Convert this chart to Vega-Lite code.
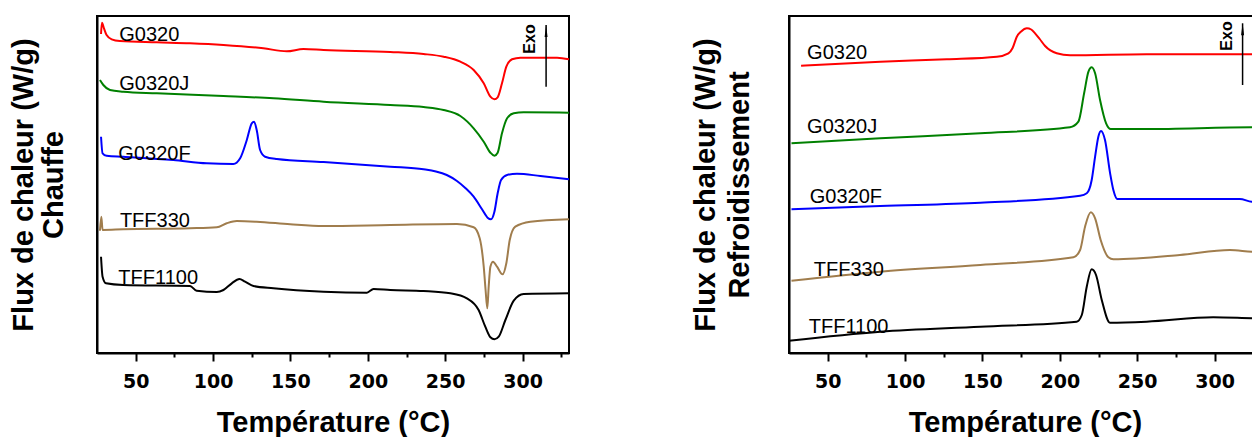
{
  "$schema": "https://vega.github.io/schema/vega-lite/v6.json",
  "background": "white",
  "padding": {"left": 8, "top": 15, "right": 0, "bottom": 0},
  "spacing": 116,
  "datasets": {
    "curves": [
      {"mode": "h", "s": "G0320", "T": 27.6, "v": 319}, {"mode": "h", "s": "G0320", "T": 28.2, "v": 330.3}, {"mode": "h", "s": "G0320", "T": 29.5, "v": 324.7}, {"mode": "h", "s": "G0320", "T": 31.2, "v": 318}, {"mode": "h", "s": "G0320", "T": 34.5, "v": 313.7}, {"mode": "h", "s": "G0320", "T": 39.8, "v": 312}, {"mode": "h", "s": "G0320", "T": 63.6, "v": 310.7}, {"mode": "h", "s": "G0320", "T": 85.1, "v": 309.7}, {"mode": "h", "s": "G0320", "T": 106.7, "v": 308}, {"mode": "h", "s": "G0320", "T": 132.5, "v": 304.7}, {"mode": "h", "s": "G0320", "T": 147.6, "v": 301.7}, {"mode": "h", "s": "G0320", "T": 158.4, "v": 304}, {"mode": "h", "s": "G0320", "T": 171.4, "v": 303}, {"mode": "h", "s": "G0320", "T": 214.5, "v": 301}, {"mode": "h", "s": "G0320", "T": 236, "v": 299}, {"mode": "h", "s": "G0320", "T": 249, "v": 296.3}, {"mode": "h", "s": "G0320", "T": 259.8, "v": 291.3}, {"mode": "h", "s": "G0320", "T": 268.4, "v": 283}, {"mode": "h", "s": "G0320", "T": 274.9, "v": 269.7}, {"mode": "h", "s": "G0320", "T": 279.2, "v": 256.3}, {"mode": "h", "s": "G0320", "T": 281.8, "v": 253.7}, {"mode": "h", "s": "G0320", "T": 283.9, "v": 255.7}, {"mode": "h", "s": "G0320", "T": 286.7, "v": 269.7}, {"mode": "h", "s": "G0320", "T": 289.5, "v": 286.3}, {"mode": "h", "s": "G0320", "T": 293.2, "v": 293.7}, {"mode": "h", "s": "G0320", "T": 298.6, "v": 295.3}, {"mode": "h", "s": "G0320", "T": 322.3, "v": 295.3}, {"mode": "h", "s": "G0320", "T": 330, "v": 293.7},
      {"mode": "h", "s": "G0320J", "T": 26.9, "v": 273}, {"mode": "h", "s": "G0320J", "T": 29.1, "v": 268}, {"mode": "h", "s": "G0320J", "T": 33.4, "v": 263}, {"mode": "h", "s": "G0320J", "T": 42, "v": 261.3}, {"mode": "h", "s": "G0320J", "T": 63.6, "v": 259.7}, {"mode": "h", "s": "G0320J", "T": 106.7, "v": 257}, {"mode": "h", "s": "G0320J", "T": 139, "v": 254.7}, {"mode": "h", "s": "G0320J", "T": 171.4, "v": 251.3}, {"mode": "h", "s": "G0320J", "T": 214.5, "v": 248}, {"mode": "h", "s": "G0320J", "T": 236, "v": 246}, {"mode": "h", "s": "G0320J", "T": 249, "v": 243}, {"mode": "h", "s": "G0320J", "T": 259.8, "v": 237}, {"mode": "h", "s": "G0320J", "T": 268.4, "v": 224.7}, {"mode": "h", "s": "G0320J", "T": 274.9, "v": 211.3}, {"mode": "h", "s": "G0320J", "T": 279.2, "v": 200.3}, {"mode": "h", "s": "G0320J", "T": 281.8, "v": 197.3}, {"mode": "h", "s": "G0320J", "T": 283.9, "v": 200.3}, {"mode": "h", "s": "G0320J", "T": 286.7, "v": 219.7}, {"mode": "h", "s": "G0320J", "T": 290, "v": 234.7}, {"mode": "h", "s": "G0320J", "T": 294.3, "v": 239.7}, {"mode": "h", "s": "G0320J", "T": 300.7, "v": 240.7}, {"mode": "h", "s": "G0320J", "T": 330, "v": 240.3},
      {"mode": "h", "s": "G0320F", "T": 27.6, "v": 216.3}, {"mode": "h", "s": "G0320F", "T": 28.6, "v": 199.7}, {"mode": "h", "s": "G0320F", "T": 31.2, "v": 197.3}, {"mode": "h", "s": "G0320F", "T": 42, "v": 196.3}, {"mode": "h", "s": "G0320F", "T": 74.3, "v": 193}, {"mode": "h", "s": "G0320F", "T": 95.9, "v": 189.7}, {"mode": "h", "s": "G0320F", "T": 113.1, "v": 189}, {"mode": "h", "s": "G0320F", "T": 117.5, "v": 194.7}, {"mode": "h", "s": "G0320F", "T": 121.8, "v": 213}, {"mode": "h", "s": "G0320F", "T": 125, "v": 229.7}, {"mode": "h", "s": "G0320F", "T": 126.5, "v": 231.3}, {"mode": "h", "s": "G0320F", "T": 128.2, "v": 223}, {"mode": "h", "s": "G0320F", "T": 130.4, "v": 203}, {"mode": "h", "s": "G0320F", "T": 133.6, "v": 196.3}, {"mode": "h", "s": "G0320F", "T": 141.2, "v": 194}, {"mode": "h", "s": "G0320F", "T": 171.4, "v": 191}, {"mode": "h", "s": "G0320F", "T": 214.5, "v": 186.3}, {"mode": "h", "s": "G0320F", "T": 236, "v": 183.7}, {"mode": "h", "s": "G0320F", "T": 244, "v": 181.5}, {"mode": "h", "s": "G0320F", "T": 251, "v": 178}, {"mode": "h", "s": "G0320F", "T": 257.6, "v": 172}, {"mode": "h", "s": "G0320F", "T": 263, "v": 165}, {"mode": "h", "s": "G0320F", "T": 268.4, "v": 156.3}, {"mode": "h", "s": "G0320F", "T": 273.8, "v": 143.7}, {"mode": "h", "s": "G0320F", "T": 277.4, "v": 135.3}, {"mode": "h", "s": "G0320F", "T": 279.6, "v": 133.7}, {"mode": "h", "s": "G0320F", "T": 281.8, "v": 141.3}, {"mode": "h", "s": "G0320F", "T": 283.9, "v": 159.7}, {"mode": "h", "s": "G0320F", "T": 286.1, "v": 173}, {"mode": "h", "s": "G0320F", "T": 290, "v": 178}, {"mode": "h", "s": "G0320F", "T": 296.4, "v": 179.3}, {"mode": "h", "s": "G0320F", "T": 311.5, "v": 177}, {"mode": "h", "s": "G0320F", "T": 330, "v": 173.7},
      {"mode": "h", "s": "TFF330", "T": 26.9, "v": 122.3}, {"mode": "h", "s": "TFF330", "T": 27.8, "v": 136.3}, {"mode": "h", "s": "TFF330", "T": 28.6, "v": 123}, {"mode": "h", "s": "TFF330", "T": 42, "v": 123.7}, {"mode": "h", "s": "TFF330", "T": 85.1, "v": 124.7}, {"mode": "h", "s": "TFF330", "T": 102.4, "v": 125.7}, {"mode": "h", "s": "TFF330", "T": 108.8, "v": 129.7}, {"mode": "h", "s": "TFF330", "T": 115.3, "v": 132}, {"mode": "h", "s": "TFF330", "T": 128.2, "v": 131.3}, {"mode": "h", "s": "TFF330", "T": 149.8, "v": 128.7}, {"mode": "h", "s": "TFF330", "T": 171.4, "v": 127}, {"mode": "h", "s": "TFF330", "T": 214.5, "v": 128}, {"mode": "h", "s": "TFF330", "T": 257.6, "v": 129}, {"mode": "h", "s": "TFF330", "T": 268.4, "v": 125.7}, {"mode": "h", "s": "TFF330", "T": 272.3, "v": 114.7}, {"mode": "h", "s": "TFF330", "T": 274.9, "v": 86.3}, {"mode": "h", "s": "TFF330", "T": 276.1, "v": 63}, {"mode": "h", "s": "TFF330", "T": 277.2, "v": 44.7}, {"mode": "h", "s": "TFF330", "T": 278.1, "v": 66.3}, {"mode": "h", "s": "TFF330", "T": 279.2, "v": 86.3}, {"mode": "h", "s": "TFF330", "T": 280.9, "v": 91.3}, {"mode": "h", "s": "TFF330", "T": 283.5, "v": 86.3}, {"mode": "h", "s": "TFF330", "T": 287.1, "v": 78.7}, {"mode": "h", "s": "TFF330", "T": 289.5, "v": 89.7}, {"mode": "h", "s": "TFF330", "T": 291.7, "v": 113}, {"mode": "h", "s": "TFF330", "T": 295.3, "v": 126.3}, {"mode": "h", "s": "TFF330", "T": 305, "v": 131.3}, {"mode": "h", "s": "TFF330", "T": 330, "v": 133.7},
      {"mode": "h", "s": "TFF1100", "T": 27.6, "v": 96.3}, {"mode": "h", "s": "TFF1100", "T": 28.6, "v": 76.3}, {"mode": "h", "s": "TFF1100", "T": 30.8, "v": 69.7}, {"mode": "h", "s": "TFF1100", "T": 42, "v": 68}, {"mode": "h", "s": "TFF1100", "T": 85.1, "v": 67}, {"mode": "h", "s": "TFF1100", "T": 89.4, "v": 62.3}, {"mode": "h", "s": "TFF1100", "T": 102.4, "v": 61}, {"mode": "h", "s": "TFF1100", "T": 106.7, "v": 63}, {"mode": "h", "s": "TFF1100", "T": 112.1, "v": 69.7}, {"mode": "h", "s": "TFF1100", "T": 117, "v": 74}, {"mode": "h", "s": "TFF1100", "T": 120.7, "v": 71.3}, {"mode": "h", "s": "TFF1100", "T": 126.1, "v": 67}, {"mode": "h", "s": "TFF1100", "T": 139, "v": 64.7}, {"mode": "h", "s": "TFF1100", "T": 171.4, "v": 61.3}, {"mode": "h", "s": "TFF1100", "T": 199.4, "v": 60.3}, {"mode": "h", "s": "TFF1100", "T": 203.7, "v": 64}, {"mode": "h", "s": "TFF1100", "T": 214.5, "v": 63}, {"mode": "h", "s": "TFF1100", "T": 236, "v": 62}, {"mode": "h", "s": "TFF1100", "T": 253.3, "v": 59.7}, {"mode": "h", "s": "TFF1100", "T": 264, "v": 54.7}, {"mode": "h", "s": "TFF1100", "T": 271.6, "v": 43}, {"mode": "h", "s": "TFF1100", "T": 275.9, "v": 26.3}, {"mode": "h", "s": "TFF1100", "T": 279.2, "v": 15.7}, {"mode": "h", "s": "TFF1100", "T": 281.8, "v": 13.7}, {"mode": "h", "s": "TFF1100", "T": 284.6, "v": 16.3}, {"mode": "h", "s": "TFF1100", "T": 288.9, "v": 33}, {"mode": "h", "s": "TFF1100", "T": 294.3, "v": 52.3}, {"mode": "h", "s": "TFF1100", "T": 300.7, "v": 59}, {"mode": "h", "s": "TFF1100", "T": 330, "v": 59.7},
      {"mode": "c", "s": "G0320", "T": 32.8, "v": 287.3}, {"mode": "c", "s": "G0320", "T": 84, "v": 291.3}, {"mode": "c", "s": "G0320", "T": 127, "v": 293.7}, {"mode": "c", "s": "G0320", "T": 159.3, "v": 296.3}, {"mode": "c", "s": "G0320", "T": 166.8, "v": 299.7}, {"mode": "c", "s": "G0320", "T": 169.5, "v": 305}, {"mode": "c", "s": "G0320", "T": 172.2, "v": 316.3}, {"mode": "c", "s": "G0320", "T": 175, "v": 321.5}, {"mode": "c", "s": "G0320", "T": 178.7, "v": 324.7}, {"mode": "c", "s": "G0320", "T": 181.5, "v": 323.5}, {"mode": "c", "s": "G0320", "T": 184, "v": 319.7}, {"mode": "c", "s": "G0320", "T": 187, "v": 314}, {"mode": "c", "s": "G0320", "T": 190.5, "v": 307}, {"mode": "c", "s": "G0320", "T": 198, "v": 299.7}, {"mode": "c", "s": "G0320", "T": 206.6, "v": 297.7}, {"mode": "c", "s": "G0320", "T": 256.1, "v": 298.7}, {"mode": "c", "s": "G0320", "T": 324, "v": 298.7}, {"mode": "c", "s": "G0320", "T": 330, "v": 298.5},
      {"mode": "c", "s": "G0320J", "T": 26.6, "v": 209.7}, {"mode": "c", "s": "G0320J", "T": 84, "v": 214.7}, {"mode": "c", "s": "G0320J", "T": 148.6, "v": 219.7}, {"mode": "c", "s": "G0320J", "T": 206.6, "v": 225.7}, {"mode": "c", "s": "G0320J", "T": 212, "v": 231.3}, {"mode": "c", "s": "G0320J", "T": 215.7, "v": 259.7}, {"mode": "c", "s": "G0320J", "T": 218.5, "v": 281.3}, {"mode": "c", "s": "G0320J", "T": 220.6, "v": 285.7}, {"mode": "c", "s": "G0320J", "T": 222.8, "v": 279.7}, {"mode": "c", "s": "G0320J", "T": 226, "v": 253}, {"mode": "c", "s": "G0320J", "T": 229.9, "v": 229.7}, {"mode": "c", "s": "G0320J", "T": 232.9, "v": 224}, {"mode": "c", "s": "G0320J", "T": 256.1, "v": 224}, {"mode": "c", "s": "G0320J", "T": 324, "v": 225.7}, {"mode": "c", "s": "G0320J", "T": 330, "v": 225.7},
      {"mode": "c", "s": "G0320F", "T": 26.6, "v": 143.7}, {"mode": "c", "s": "G0320F", "T": 84, "v": 147}, {"mode": "c", "s": "G0320F", "T": 148.6, "v": 150.3}, {"mode": "c", "s": "G0320F", "T": 213.1, "v": 157.3}, {"mode": "c", "s": "G0320F", "T": 217.4, "v": 159.7}, {"mode": "c", "s": "G0320F", "T": 220.6, "v": 173}, {"mode": "c", "s": "G0320F", "T": 222.8, "v": 196.3}, {"mode": "c", "s": "G0320F", "T": 224.9, "v": 216.3}, {"mode": "c", "s": "G0320F", "T": 226.6, "v": 222}, {"mode": "c", "s": "G0320F", "T": 229.2, "v": 213}, {"mode": "c", "s": "G0320F", "T": 232.5, "v": 179.7}, {"mode": "c", "s": "G0320F", "T": 234.6, "v": 163}, {"mode": "c", "s": "G0320F", "T": 237.2, "v": 154}, {"mode": "c", "s": "G0320F", "T": 256.1, "v": 154}, {"mode": "c", "s": "G0320F", "T": 316.3, "v": 154}, {"mode": "c", "s": "G0320F", "T": 324, "v": 151.3}, {"mode": "c", "s": "G0320F", "T": 330, "v": 151},
      {"mode": "c", "s": "TFF330", "T": 26.6, "v": 72.3}, {"mode": "c", "s": "TFF330", "T": 84, "v": 81.3}, {"mode": "c", "s": "TFF330", "T": 148.6, "v": 88}, {"mode": "c", "s": "TFF330", "T": 208.8, "v": 95.7}, {"mode": "c", "s": "TFF330", "T": 213.1, "v": 103}, {"mode": "c", "s": "TFF330", "T": 216.3, "v": 126.3}, {"mode": "c", "s": "TFF330", "T": 220, "v": 140.7}, {"mode": "c", "s": "TFF330", "T": 222.8, "v": 134.7}, {"mode": "c", "s": "TFF330", "T": 226.4, "v": 113}, {"mode": "c", "s": "TFF330", "T": 231.4, "v": 95.7}, {"mode": "c", "s": "TFF330", "T": 234.6, "v": 93.7}, {"mode": "c", "s": "TFF330", "T": 277.6, "v": 98}, {"mode": "c", "s": "TFF330", "T": 309.9, "v": 103}, {"mode": "c", "s": "TFF330", "T": 324, "v": 101.3}, {"mode": "c", "s": "TFF330", "T": 330, "v": 101},
      {"mode": "c", "s": "TFF1100", "T": 25, "v": 12.3}, {"mode": "c", "s": "TFF1100", "T": 84, "v": 21.3}, {"mode": "c", "s": "TFF1100", "T": 148.6, "v": 26.3}, {"mode": "c", "s": "TFF1100", "T": 210.9, "v": 31.3}, {"mode": "c", "s": "TFF1100", "T": 214.2, "v": 38}, {"mode": "c", "s": "TFF1100", "T": 217.4, "v": 66.3}, {"mode": "c", "s": "TFF1100", "T": 220.6, "v": 83.7}, {"mode": "c", "s": "TFF1100", "T": 223.4, "v": 78}, {"mode": "c", "s": "TFF1100", "T": 227.1, "v": 53}, {"mode": "c", "s": "TFF1100", "T": 232.4, "v": 30.3}, {"mode": "c", "s": "TFF1100", "T": 256.1, "v": 31.3}, {"mode": "c", "s": "TFF1100", "T": 299.1, "v": 35.7}, {"mode": "c", "s": "TFF1100", "T": 324, "v": 34.7}, {"mode": "c", "s": "TFF1100", "T": 330, "v": 34.5}
    ],
    "labels": [
      {"mode": "h", "s": "G0320", "T": 39.4, "v": 318.5}, {"mode": "h", "s": "G0320J", "T": 39.4, "v": 269}, {"mode": "h", "s": "G0320F", "T": 38.8, "v": 199.5}, {"mode": "h", "s": "TFF330", "T": 39.8, "v": 132.5}, {"mode": "h", "s": "TFF1100", "T": 38.8, "v": 75.5},
      {"mode": "c", "s": "G0320", "T": 36.7, "v": 299.7}, {"mode": "c", "s": "G0320J", "T": 36.7, "v": 226.3}, {"mode": "c", "s": "G0320F", "T": 38.4, "v": 156}, {"mode": "c", "s": "TFF330", "T": 41, "v": 83}, {"mode": "c", "s": "TFF1100", "T": 37.8, "v": 26}
    ],
    "arrows": [
      {"mode": "h", "T": 315.2, "v": 266.3, "v2": 328, "Tt": 304.6, "vt": 314, "txt": "Exo"},
      {"mode": "c", "T": 318.1, "v": 268, "v2": 329.7, "Tt": 308.2, "vt": 317, "txt": "Exo"}
    ]
  },
  "hconcat": [
    {
      "width": 472, "height": 337,
      "layer": [
        {
          "data": {"name": "curves"},
          "transform": [{"filter": "datum.mode === 'h'"}],
          "mark": {"type": "line", "strokeWidth": 2, "interpolate": "monotone"},
          "encoding": {
            "x": {"field": "T", "type": "quantitative", "title": "Température (°C)", "scale": {"domain": [25, 330], "nice": false, "zero": false},
              "axis": {"values": [50, 75, 100, 125, 150, 175, 200, 225, 250, 275, 300, 325], "labelExpr": "datum.value % 50 === 0 ? datum.label : ''", "tickSize": {"condition": {"test": "datum.value % 50 === 0", "value": 8}, "value": 4}, "labelPadding": 11, "labelOverlap": false, "labelFlush": false, "titlePadding": 17}},
            "y": {"field": "v", "type": "quantitative", "title": ["Flux de chaleur (W/g)", "Chauffe"], "scale": {"domain": [0, 337], "nice": false, "zero": false},
              "axis": {"labels": false, "ticks": false, "titlePadding": 29, "titleLineHeight": 30}},
            "color": {"field": "s", "type": "nominal", "legend": null, "scale": {"domain": ["G0320", "G0320J", "G0320F", "TFF330", "TFF1100"], "range": ["#ff0000", "#008000", "#0000ff", "#a07d4d", "#000000"]}},
            "detail": {"field": "s"}
          }
        },
        {
          "data": {"name": "labels"},
          "transform": [{"filter": "datum.mode === 'h'"}],
          "mark": {"type": "text", "align": "left", "baseline": "middle", "font": "Liberation Sans", "fontSize": 20, "color": "black"},
          "encoding": {
            "x": {"field": "T", "type": "quantitative", "title": "Température (°C)"},
            "y": {"field": "v", "type": "quantitative", "title": ["Flux de chaleur (W/g)", "Chauffe"]},
            "text": {"field": "s"}
          }
        },
        {
          "data": {"name": "arrows"},
          "transform": [{"filter": "datum.mode === 'h'"}],
          "mark": {"type": "rule", "color": "black", "strokeWidth": 1.5},
          "encoding": {
            "x": {"field": "T", "type": "quantitative", "title": "Température (°C)"},
            "y": {"field": "v", "type": "quantitative", "title": ["Flux de chaleur (W/g)", "Chauffe"]},
            "y2": {"field": "v2", "title": null}
          }
        },
        {
          "data": {"name": "arrows"},
          "transform": [{"filter": "datum.mode === 'h'"}],
          "mark": {"type": "point", "shape": "M0,-1L0.25,1L-0.25,1Z", "filled": true, "color": "black", "size": 144, "opacity": 1, "yOffset": 6},
          "encoding": {
            "x": {"field": "T", "type": "quantitative", "title": "Température (°C)"},
            "y": {"field": "v2", "type": "quantitative", "title": ["Flux de chaleur (W/g)", "Chauffe"]}
          }
        },
        {
          "data": {"name": "arrows"},
          "transform": [{"filter": "datum.mode === 'h'"}],
          "mark": {"type": "text", "angle": 270, "align": "center", "baseline": "middle", "font": "Liberation Sans", "fontWeight": "bold", "fontSize": 16, "color": "black"},
          "encoding": {
            "x": {"field": "Tt", "type": "quantitative", "title": "Température (°C)"},
            "y": {"field": "vt", "type": "quantitative", "title": ["Flux de chaleur (W/g)", "Chauffe"]},
            "text": {"field": "txt"}
          }
        }
      ]
    },
    {
      "width": 472, "height": 337,
      "layer": [
        {
          "data": {"name": "curves"},
          "transform": [{"filter": "datum.mode === 'c'"}],
          "mark": {"type": "line", "strokeWidth": 2, "interpolate": "monotone"},
          "encoding": {
            "x": {"field": "T", "type": "quantitative", "title": "Température (°C)", "scale": {"domain": [25, 330], "nice": false, "zero": false},
              "axis": {"values": [50, 75, 100, 125, 150, 175, 200, 225, 250, 275, 300, 325], "labelExpr": "datum.value % 50 === 0 ? datum.label : ''", "tickSize": {"condition": {"test": "datum.value % 50 === 0", "value": 8}, "value": 4}, "labelPadding": 11, "labelOverlap": false, "labelFlush": false, "titlePadding": 17}},
            "y": {"field": "v", "type": "quantitative", "title": ["Flux de chaleur (W/g)", "Refroidissement"], "scale": {"domain": [0, 337], "nice": false, "zero": false},
              "axis": {"labels": false, "ticks": false, "titlePadding": 35, "titleLineHeight": 34}},
            "color": {"field": "s", "type": "nominal", "legend": null, "scale": {"domain": ["G0320", "G0320J", "G0320F", "TFF330", "TFF1100"], "range": ["#ff0000", "#008000", "#0000ff", "#a07d4d", "#000000"]}},
            "detail": {"field": "s"}
          }
        },
        {
          "data": {"name": "labels"},
          "transform": [{"filter": "datum.mode === 'c'"}],
          "mark": {"type": "text", "align": "left", "baseline": "middle", "font": "Liberation Sans", "fontSize": 20, "color": "black"},
          "encoding": {
            "x": {"field": "T", "type": "quantitative", "title": "Température (°C)"},
            "y": {"field": "v", "type": "quantitative", "title": ["Flux de chaleur (W/g)", "Refroidissement"]},
            "text": {"field": "s"}
          }
        },
        {
          "data": {"name": "arrows"},
          "transform": [{"filter": "datum.mode === 'c'"}],
          "mark": {"type": "rule", "color": "black", "strokeWidth": 1.5},
          "encoding": {
            "x": {"field": "T", "type": "quantitative", "title": "Température (°C)"},
            "y": {"field": "v", "type": "quantitative", "title": ["Flux de chaleur (W/g)", "Refroidissement"]},
            "y2": {"field": "v2", "title": null}
          }
        },
        {
          "data": {"name": "arrows"},
          "transform": [{"filter": "datum.mode === 'c'"}],
          "mark": {"type": "point", "shape": "M0,-1L0.25,1L-0.25,1Z", "filled": true, "color": "black", "size": 144, "opacity": 1, "yOffset": 6},
          "encoding": {
            "x": {"field": "T", "type": "quantitative", "title": "Température (°C)"},
            "y": {"field": "v2", "type": "quantitative", "title": ["Flux de chaleur (W/g)", "Refroidissement"]}
          }
        },
        {
          "data": {"name": "arrows"},
          "transform": [{"filter": "datum.mode === 'c'"}],
          "mark": {"type": "text", "angle": 270, "align": "center", "baseline": "middle", "font": "Liberation Sans", "fontWeight": "bold", "fontSize": 16, "color": "black"},
          "encoding": {
            "x": {"field": "Tt", "type": "quantitative", "title": "Température (°C)"},
            "y": {"field": "vt", "type": "quantitative", "title": ["Flux de chaleur (W/g)", "Refroidissement"]},
            "text": {"field": "txt"}
          }
        }
      ]
    }
  ],
  "config": {
    "view": {"stroke": "black", "strokeWidth": 2},
    "axis": {
      "grid": false, "domainColor": "black", "domainWidth": 2, "tickColor": "black", "tickWidth": 2,
      "labelColor": "black", "labelFont": "DejaVu Sans", "labelFontWeight": "bold", "labelFontSize": 19,
      "titleColor": "black", "titleFont": "Liberation Sans", "titleFontWeight": "bold", "titleFontSize": 29
    }
  }
}
